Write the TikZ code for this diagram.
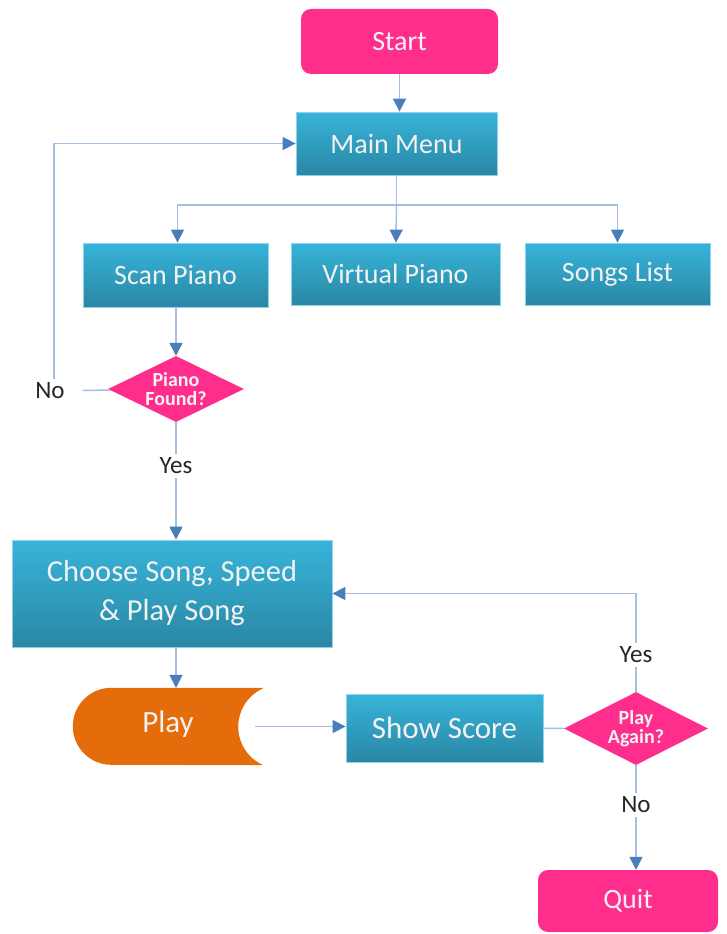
\documentclass[tikz,border=0pt]{standalone}
\usepackage{fontspec}
\setmainfont{Carlito}
\usepackage{tikz}
\usetikzlibrary{shapes.geometric, arrows.meta, positioning, backgrounds}
\usepackage{xcolor}
\definecolor{hotpink}{HTML}{FF2D8C}
\definecolor{boxtop}{HTML}{37B4DA}
\definecolor{boxbot}{HTML}{2A87A3}
\definecolor{boxedge}{HTML}{8FD3E8}
\definecolor{playorange}{HTML}{E46C0A}
\definecolor{linkblue}{HTML}{A3BEE2}
\definecolor{tipblue}{HTML}{4A7EBB}
\definecolor{labelgray}{HTML}{262626}

\begin{document}
\begin{tikzpicture}[x=1pt,y=-1pt,
    link/.style={draw=linkblue, line width=1.5pt},
    flow/.style={link, -{Triangle[length=13pt,width=13pt,color=tipblue]}},
    box/.style={rectangle, draw=boxedge, line width=0.8pt, top color=boxtop, bottom color=boxbot,
      text=white!95!black, font=\fontsize{28}{34}\selectfont, align=center, inner sep=0pt},
    term/.style={rectangle, rounded corners=10pt, fill=hotpink, text=white!95!black,
      font=\fontsize{28}{34}\selectfont, inner sep=0pt},
    decision/.style={diamond, aspect=2.2, fill=hotpink, text=white!95!black, align=center, inner sep=0pt,
      font=\bfseries\fontsize{20}{19}\selectfont},
    answer/.style={text=labelgray, font=\fontsize{25}{28}\selectfont, inner sep=4pt}]
  \useasboundingbox (0,0) rectangle (726,934);

  \node[term, minimum width=197pt, minimum height=65pt] (start) at (399.5,41.5) {Start};
  \node[box, minimum width=201pt, minimum height=63pt] (menu) at (396.5,143.5) {Main Menu};
  \node[box, minimum width=185pt, minimum height=64pt] (scan) at (175.5,275) {Scan Piano};
  \node[box, minimum width=209pt, minimum height=62pt] (virtual) at (395.5,274) {Virtual Piano};
  \node[box, minimum width=185pt, minimum height=62pt] (songs) at (617.5,274) {Songs List};
  \node[decision, minimum width=136pt, minimum height=66pt] (found) at (176,389) {Piano\\Found?};
  \node[answer] (no1) at (50,391) {No};
  \node[answer] (yes1) at (176,466) {Yes};
  \node[box, minimum width=320pt, minimum height=107pt, font=\fontsize{30.5}{39}\selectfont]
    (choose) at (172,593.5) {Choose Song, Speed\\\& Play Song};
  \node[minimum width=190pt, minimum height=77pt, inner sep=0pt, text=white!95!black,
    font=\fontsize{31}{34}\selectfont] (play) at (168,724) {Play};
  \node[box, minimum width=197pt, minimum height=68pt, font=\fontsize{31}{34}\selectfont]
    (score) at (444.5,728) {Show Score};
  \node[decision, minimum width=144pt, minimum height=73pt] (again) at (636,728.5) {Play\\Again?};
  \node[answer] (yes2) at (636,655) {Yes};
  \node[answer] (no2) at (636,805) {No};
  \node[term, minimum width=180pt, minimum height=62pt] (quit) at (628,901) {Quit};
  \coordinate (split) at (396.5,205);

  \begin{scope}[on background layer]
    \fill[playorange] ([yshift=-2.5pt]play.north east) -- ([xshift=38.5pt,yshift=-2.5pt]play.north west)
      arc[start angle=90, end angle=270, radius=38.5pt] -- ([yshift=-2.5pt]play.south east)
      arc[start angle=246, end angle=114, radius=42.1pt] -- cycle;
  \end{scope}

  \draw[flow] (start) -- (start |- menu.north);
  \draw[link] (menu) -- (split);
  \draw[flow] (split) -| ([xshift=2pt]scan.north);
  \draw[flow] (split) -- (virtual);
  \draw[flow] (split) -| (songs);
  \draw[flow] (scan.south -| found) -- (found);
  \draw[link, shorten >=14pt] (found) -- (no1);
  \draw[flow] ([xshift=4pt]no1.north) |- (menu);
  \draw[link] (found) -- (yes1);
  \draw[flow] (yes1.south) -- (yes1.south |- choose.north);
  \draw[flow] (choose.south -| found) -- ([yshift=-2.5pt]play.north -| found);
  \draw[flow] ([xshift=-8pt,yshift=-2.5pt]play.east) -- ([yshift=-2.5pt]play.east -| score.west);
  \draw[link] (score) -- (again);
  \draw[link] (again) -- (yes2);
  \draw[flow] (yes2.north) |- (choose);
  \draw[link] (again) -- (no2);
  \draw[flow] (no2.south) -- (no2.south |- quit.north);
\end{tikzpicture}
\end{document}
